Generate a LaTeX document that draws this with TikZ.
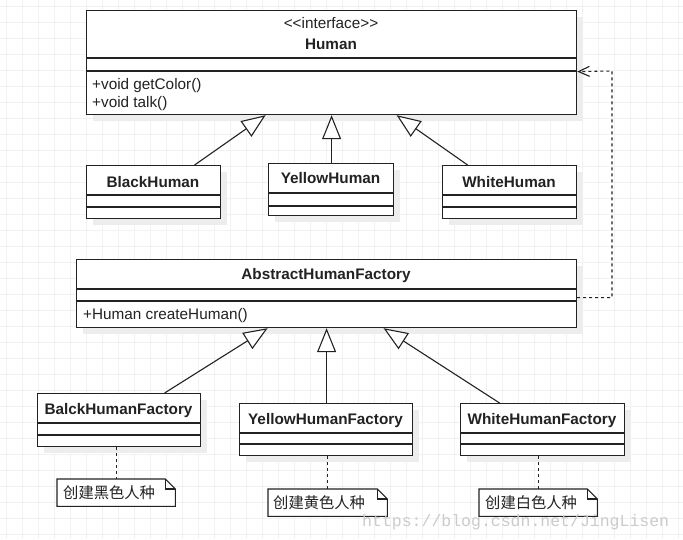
\documentclass[tikz,border=0pt]{standalone}
\usepackage{fontspec}
\setmainfont{Liberation Sans}
\newfontfamily\cjkfont{Noto Sans CJK SC}
\newfontfamily\wmfont{Liberation Mono}
\usetikzlibrary{arrows.meta,calc}

\definecolor{gridcol}{HTML}{F1F1F1}
\definecolor{shadowcol}{HTML}{EDEDED}
\definecolor{inkcol}{HTML}{222222}
\definecolor{wmcol}{HTML}{CBCBCB}

\tikzset{
  umlbox/.style={draw=inkcol, line width=1.2pt, fill=white, inner sep=0pt, anchor=north west},
  sepline/.style={draw=inkcol, line width=1.1pt},
  titletext/.style={font=\fontsize{15.3}{18}\selectfont\bfseries, text=inkcol, anchor=base, inner sep=0pt},
  plaintext/.style={font=\fontsize{15.3}{18}\selectfont, text=inkcol, anchor=base, inner sep=0pt},
  membertext/.style={font=\fontsize{15.3}{18}\selectfont, text=inkcol, anchor=base west, inner sep=0pt},
  notetext/.style={font=\cjkfont\fontsize{15.3}{18}\selectfont, text=inkcol, anchor=west, inner sep=0pt},
  noteholder/.style={inner sep=0pt, anchor=north west},
  noteline/.style={draw=inkcol, line width=1.1pt, fill=white},
  gen/.style={draw=inkcol, line width=1.1pt, -{Triangle[length=24pt, width=19pt, fill=white, line width=1.1pt]}},
  realiz/.style={draw=inkcol, line width=1.1pt, dash pattern=on 3pt off 3pt, -{Straight Barb[length=11pt, width=10pt, line width=1.1pt]}},
  notelink/.style={draw=inkcol, line width=1.1pt, dash pattern=on 3pt off 3pt}
}

\newcommand\classboxdraw[7]{%
  \fill[shadowcol] (#2+7,#3+7) rectangle (#4+7,#5+7);
  \node[umlbox, minimum width={(#4-#2)*1pt}, minimum height={(#5-#3)*1pt}] (#1) at (#2,#3) {};
  \draw[sepline] (#2,#6) -- (#4,#6);
  \draw[sepline] (#2,#7) -- (#4,#7);
}

\newcommand\notedraw[5]{%
  \node[noteholder, minimum width={(#4-#2)*1pt}, minimum height={(#5-#3)*1pt}] (#1) at (#2,#3) {};
  \draw[noteline] (#1.north west) -- ([xshift=-10pt]#1.north east) -- ([yshift=-10pt]#1.north east) -- (#1.south east) -- (#1.south west) -- cycle;
  \draw[noteline, fill=none] ([xshift=-10pt]#1.north east) -- ([xshift=-10pt,yshift=-10pt]#1.north east) -- ([yshift=-10pt]#1.north east);
}

\begin{document}
\begin{tikzpicture}[x=1pt, y=-1pt]
\useasboundingbox (0,0) rectangle (683,539);
\fill[white] (0,0) rectangle (683,539);
% background grid
\foreach \g in {6,22,...,678} { \draw[gridcol, line width=1pt] (\g,0) -- (\g,539); }
\foreach \g in {6,22,...,534} { \draw[gridcol, line width=1pt] (0,\g) -- (683,\g); }

% interface Human
\classboxdraw{human}{86}{10}{576}{114}{58}{71}
\node[plaintext] (humst) at (331,28) {<\kern0pt<interface>\kern0pt>};
\node[titletext] (humt) at (331,49) {Human};
\node[membertext] (humm1) at (92,89) {+void getColor()};
\node[membertext] (humm2) at (92,107) {+void talk()};

% concrete humans
\classboxdraw{bh}{86}{165}{220}{218}{195}{207}
\node[titletext] (bht) at (153,187) {BlackHuman};
\classboxdraw{yh}{268}{163}{393}{215}{193}{206}
\node[titletext] (yht) at (330.5,183) {YellowHuman};
\classboxdraw{wh}{442}{165}{576}{218}{195}{207}
\node[titletext] (wht) at (509,187) {WhiteHuman};

% abstract factory
\classboxdraw{abf}{76}{259}{576}{327}{289}{301}
\node[titletext] (abft) at (326,279) {AbstractHumanFactory};
\node[membertext] (abfm) at (83,319) {+Human createHuman()};

% concrete factories
\classboxdraw{bhf}{37}{393}{200}{446}{423}{435}
\node[titletext] (bhft) at (118.5,414) {BalckHumanFactory};
\classboxdraw{yhf}{239}{403}{412}{455}{433}{444}
\node[titletext] (yhft) at (325.5,424) {YellowHumanFactory};
\classboxdraw{whf}{460}{403}{624}{455}{433}{444}
\node[titletext] (whft) at (542,424) {WhiteHumanFactory};

% generalizations to Human
\draw[gen] ([xshift=41pt]bh.north) -- ([xshift=-66pt]human.south);
\draw[gen] ([xshift=0.5pt]yh.north) -- ([xshift=0.5pt]yh.north |- human.south);
\draw[gen] ([xshift=-42pt]wh.north) -- ([xshift=65pt]human.south);

% generalizations to AbstractHumanFactory
\draw[gen] ([xshift=45.5pt]bhf.north) -- ([xshift=-59pt]abf.south);
\draw[gen] ([xshift=0.5pt]yhf.north) -- ([xshift=0.5pt]yhf.north |- abf.south);
\draw[gen] ([xshift=-43pt]whf.north) -- ([xshift=57pt]abf.south);

% dependency from factory to Human
\coordinate (bend) at (612,71);
\draw[realiz] ([yshift=-4pt]abf.east) -| (bend) -- ([yshift=-9pt]human.east);

% notes
\notedraw{n1}{57}{479}{175}{506}
\node[notetext] (n1t) at (63,492.5) {创建黑色人种};
\notedraw{n2}{268}{489}{387}{516}
\node[notetext] (n2t) at (273,502.5) {创建黄色人种};
\notedraw{n3}{479}{489}{597}{516}
\node[notetext] (n3t) at (485,502.5) {创建白色人种};

\draw[notelink] (n1.north |- bhf.south) -- (n1.north);
\draw[notelink] (n2.north |- yhf.south) -- (n2.north);
\draw[notelink] (n3.north |- whf.south) -- (n3.north);

% watermark
\node[anchor=base west, inner sep=0pt, text=wmcol, font=\wmfont\fontsize{16.5}{18}\selectfont] (wm) at (362,526) {https://blog.csdn.net/JingLisen};
\end{tikzpicture}
\end{document}
